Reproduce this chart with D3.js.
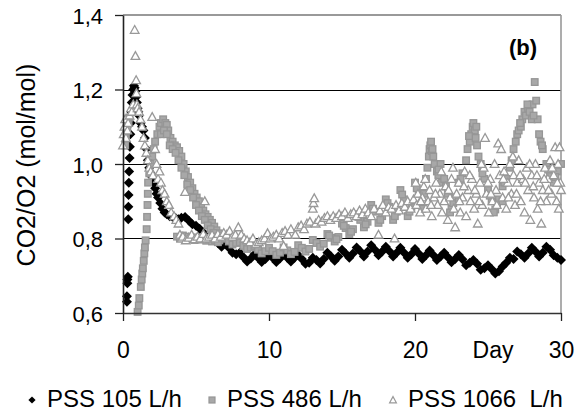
<!DOCTYPE html>
<html lang="en">

<head>
  <meta charset="UTF-8">
  <title>CO2/O2</title>
  <style>
    * {
      padding: 0;
      margin: 0;
    }

    body {
      background: #fff;
    }

    svg text {
      font-family: "Liberation Sans", Arial, sans-serif;
      fill: #000;
    }
  </style>
</head>

<body>
  <svg id="svg"></svg>
  <script src="https://cdnjs.cloudflare.com/ajax/libs/d3/7.8.5/d3.min.js"></script>
  <script>
    // [day, CO2/O2]
    const pss105 = [
      [0.27, 0.630], [0.27, 0.645], [0.30, 0.680], [0.30, 0.690], [0.33, 0.697],
      [0.36, 0.852], [0.37, 0.885], [0.38, 0.917], [0.40, 0.950], [0.42, 0.980], [0.45, 1.016],
      [0.47, 1.046], [0.50, 1.080], [0.53, 1.110], [0.56, 1.140], [0.60, 1.165], [0.65, 1.185],
      [0.70, 1.200], [0.75, 1.210], [0.80, 1.205], [0.85, 1.195], [0.90, 1.180], [0.95, 1.165],
      [1.00, 1.150], [1.05, 1.140], [1.10, 1.130], [1.20, 1.110], [1.30, 1.100], [1.40, 1.090],
      [1.50, 1.070], [1.60, 1.040], [1.70, 1.010], [1.80, 0.990], [1.90, 0.975], [2.00, 0.965],
      [2.10, 0.950], [2.20, 0.935], [2.30, 0.920], [2.40, 0.910], [2.55, 0.895], [2.70, 0.880],
      [2.85, 0.870], [3.00, 0.865], [3.20, 0.860], [3.40, 0.858], [3.60, 0.855], [3.80, 0.852],
      [4.00, 0.856], [4.25, 0.858], [4.50, 0.848], [4.75, 0.838], [5.00, 0.834], [5.25, 0.826],
      [5.50, 0.816], [5.75, 0.808], [6.00, 0.802], [6.25, 0.796], [6.50, 0.788], [6.75, 0.778],
      [7.00, 0.785], [7.25, 0.775], [7.50, 0.762], [7.75, 0.758],
      [8.00, 0.762], [8.25, 0.750], [8.50, 0.738], [8.75, 0.746],
      [9.00, 0.758], [9.25, 0.748], [9.50, 0.737], [9.75, 0.745],
      [10.00, 0.758], [10.25, 0.748], [10.50, 0.737], [10.75, 0.746],
      [11.00, 0.758], [11.25, 0.748], [11.50, 0.738], [11.75, 0.748],
      [12.00, 0.756], [12.25, 0.745], [12.50, 0.732], [12.75, 0.735],
      [13.00, 0.748], [13.25, 0.742], [13.50, 0.733], [13.75, 0.745],
      [14.00, 0.762], [14.25, 0.752], [14.50, 0.740], [14.75, 0.752],
      [15.00, 0.770], [15.25, 0.760], [15.50, 0.748], [15.75, 0.760],
      [16.00, 0.776], [16.25, 0.766], [16.50, 0.752], [16.75, 0.765],
      [17.00, 0.782], [17.25, 0.770], [17.50, 0.755], [17.75, 0.765],
      [18.00, 0.778], [18.25, 0.766], [18.50, 0.752], [18.75, 0.762],
      [19.00, 0.775], [19.25, 0.762], [19.50, 0.748], [19.75, 0.758],
      [20.00, 0.772], [20.25, 0.760], [20.50, 0.745], [20.75, 0.755],
      [21.00, 0.768], [21.25, 0.756], [21.50, 0.742], [21.75, 0.752],
      [22.00, 0.762], [22.25, 0.750], [22.50, 0.736], [22.75, 0.745],
      [23.00, 0.756], [23.25, 0.744], [23.50, 0.728], [23.75, 0.735],
      [24.00, 0.742], [24.25, 0.732], [24.50, 0.716], [24.75, 0.720],
      [25.00, 0.728], [25.25, 0.718], [25.50, 0.706], [25.75, 0.712],
      [26.00, 0.725], [26.25, 0.735], [26.50, 0.748], [26.75, 0.745],
      [27.00, 0.765], [27.25, 0.758], [27.50, 0.748], [27.75, 0.760],
      [28.00, 0.775], [28.25, 0.765], [28.50, 0.752], [28.75, 0.762],
      [29.00, 0.778], [29.25, 0.770], [29.50, 0.755], [29.75, 0.748],
      [30.00, 0.742]
    ];

    const pss486 = [
      [0.15, 1.050], [0.20, 1.070], [0.25, 1.090], [0.30, 1.100], [0.38, 1.115], [0.45, 1.125],
      [1.00, 0.603], [1.08, 0.620], [1.12, 0.640], [1.22, 0.670], [1.28, 0.690], [1.32, 0.706],
      [1.36, 0.720], [1.42, 0.740], [1.46, 0.760], [1.50, 0.776], [1.55, 0.795], [1.62, 0.825],
      [1.65, 0.858], [1.68, 0.890], [1.70, 0.920], [1.72, 0.950], [1.80, 0.975], [1.90, 1.000],
      [2.00, 1.020], [2.10, 1.040], [2.20, 1.060], [2.35, 1.080], [2.50, 1.100], [2.60, 1.110],
      [2.75, 1.120], [2.90, 1.110], [3.00, 1.105], [3.10, 1.090], [3.25, 1.070], [3.40, 1.060],
      [3.55, 1.050], [3.70, 1.045], [3.85, 1.035], [4.00, 1.020], [4.15, 1.000], [4.30, 0.980],
      [4.45, 0.965], [4.60, 0.950], [4.75, 0.935], [4.90, 0.920], [5.05, 0.910], [5.20, 0.900],
      [5.35, 0.885], [5.50, 0.875], [5.65, 0.865], [5.80, 0.858], [5.95, 0.850], [6.10, 0.842],
      [6.25, 0.832], [6.40, 0.822], [6.55, 0.814], [6.70, 0.806], [6.85, 0.800],
      [2.60, 1.080], [2.80, 1.090], [3.00, 1.080], [3.20, 1.050], [3.40, 1.040], [3.60, 1.030],
      [3.80, 1.010], [4.00, 0.990], [4.20, 0.970], [4.40, 0.945], [4.60, 0.930], [4.80, 0.910],
      [5.00, 0.890], [5.20, 0.875], [5.40, 0.860], [5.60, 0.850], [5.80, 0.835], [6.00, 0.825],
      [6.20, 0.815], [6.40, 0.805], [6.60, 0.795],
      [3.70, 0.805], [3.90, 0.800], [4.10, 0.808], [4.30, 0.798], [4.50, 0.805], [4.70, 0.800],
      [4.90, 0.796], [5.10, 0.803], [5.30, 0.797], [5.50, 0.800], [5.70, 0.794], [5.90, 0.798],
      [6.10, 0.792], [6.30, 0.796], [6.50, 0.790],
      [7.00, 0.800], [7.25, 0.792], [7.50, 0.784], [7.75, 0.788],
      [8.00, 0.790], [8.25, 0.780], [8.50, 0.772], [8.75, 0.776],
      [9.00, 0.780], [9.25, 0.770], [9.50, 0.760], [9.75, 0.766],
      [10.00, 0.775], [10.25, 0.766], [10.50, 0.756], [10.75, 0.762],
      [11.00, 0.776], [11.25, 0.768], [11.50, 0.758], [11.75, 0.764],
      [12.00, 0.782], [12.25, 0.775], [12.50, 0.765], [12.75, 0.772],
      [13.00, 0.796], [13.25, 0.788], [13.50, 0.778], [13.75, 0.786],
      [14.00, 0.812], [14.25, 0.802], [14.50, 0.792], [14.75, 0.804],
      [15.00, 0.840], [15.25, 0.828], [15.50, 0.812], [15.75, 0.825],
      [16.00, 0.865], [16.25, 0.850], [16.50, 0.830], [16.75, 0.845],
      [17.00, 0.890], [17.25, 0.872], [17.50, 0.842], [17.75, 0.860],
      [18.00, 0.905], [18.25, 0.885], [18.50, 0.850], [18.75, 0.872],
      [19.00, 0.930], [19.25, 0.905], [19.50, 0.860], [19.75, 0.885],
      [20.00, 0.950], [20.25, 0.920], [20.50, 0.880], [20.75, 0.960],
      [20.85, 0.990], [20.95, 1.020], [21.00, 1.040], [21.05, 1.050], [21.10, 1.060], [21.15, 1.035],
      [21.25, 1.020], [21.35, 1.000], [21.50, 0.980], [21.60, 0.970], [21.75, 1.000], [21.85, 0.950],
      [22.00, 0.960], [22.25, 0.920], [22.50, 0.880], [22.75, 0.910],
      [23.00, 0.950], [23.25, 0.975], [23.50, 1.010], [23.60, 1.040], [23.75, 1.060], [23.85, 1.080],
      [23.95, 1.100], [24.00, 1.110], [24.10, 1.090], [24.15, 1.070], [24.25, 1.050], [24.35, 1.020],
      [24.50, 1.000], [24.60, 0.990], [24.75, 0.960],
      [25.00, 0.930], [25.25, 0.900], [25.50, 0.878], [25.75, 0.905],
      [26.00, 0.940], [26.25, 0.960], [26.50, 0.990], [26.75, 1.040], [26.90, 1.060],
      [27.00, 1.080], [27.10, 1.090], [27.25, 1.100], [27.35, 1.120], [27.50, 1.140], [27.60, 1.130],
      [27.75, 1.150], [27.85, 1.140], [28.00, 1.120], [28.05, 1.160], [28.20, 1.220], [28.30, 1.170],
      [28.40, 1.120], [28.50, 1.080], [28.60, 1.060], [28.75, 1.040],
      [29.00, 1.000], [29.25, 0.970], [29.50, 0.950], [29.75, 0.980], [30.00, 1.000],
      [14.12, 0.808], [14.62, 0.798], [15.12, 0.834], [15.62, 0.818], [16.12, 0.858], [16.62, 0.838],
      [17.12, 0.880], [17.62, 0.850], [18.12, 0.895], [18.62, 0.860], [19.12, 0.918], [19.62, 0.872],
      [20.12, 0.935], [20.62, 0.920], [21.20, 1.040], [21.62, 0.985], [22.12, 0.940], [22.62, 0.895],
      [23.12, 0.960], [23.70, 1.075], [24.20, 1.100], [24.62, 0.975], [25.12, 0.915], [25.62, 0.890],
      [26.12, 0.950], [26.62, 1.010], [27.20, 1.110], [27.70, 1.160], [28.12, 1.130], [28.70, 1.050],
      [29.12, 0.985], [29.62, 0.965], [22.40, 0.870], [25.40, 0.870], [26.00, 0.900], [23.00, 0.900]
    ];

    const pss1066 = [
      [0.00, 1.050], [0.05, 1.080], [0.10, 1.100], [0.15, 1.120], [0.20, 1.070], [0.30, 1.090],
      [0.35, 1.110], [0.45, 1.130], [0.55, 1.150], [0.60, 1.140], [0.70, 1.160], [0.80, 1.360],
      [0.85, 1.290], [0.90, 1.225], [0.92, 1.190], [0.95, 1.160], [1.00, 1.150], [1.10, 1.140],
      [1.20, 1.120], [1.30, 1.100], [1.40, 1.070], [1.50, 1.050], [1.60, 1.030], [1.70, 1.010],
      [1.80, 0.990], [1.90, 0.980], [2.00, 1.126], [2.05, 0.970], [2.20, 1.040], [2.30, 1.000],
      [2.40, 0.960], [2.50, 0.980], [2.60, 0.950], [2.70, 0.930], [2.85, 0.920], [3.00, 0.900],
      [3.15, 0.890], [3.30, 0.870], [3.50, 0.860], [3.65, 0.850], [3.80, 0.840], [3.90, 0.810],
      [4.00, 0.800], [4.10, 0.805], [4.25, 0.925], [4.30, 0.795], [4.50, 0.802], [4.70, 0.810],
      [4.90, 0.798], [5.10, 0.805], [5.30, 0.800], [5.50, 0.812], [5.60, 0.900], [5.70, 0.800],
      [5.90, 0.805], [6.10, 0.810], [6.30, 0.800], [6.50, 0.812], [6.70, 0.805], [6.90, 0.815],
      [7.10, 0.810], [7.30, 0.820], [7.50, 0.805], [7.70, 0.810], [7.90, 0.830], [8.10, 0.810],
      [8.30, 0.800], [8.50, 0.795], [8.70, 0.790], [8.90, 0.800], [9.10, 0.785], [9.30, 0.790],
      [9.50, 0.795], [9.70, 0.800], [9.90, 0.814], [10.10, 0.800], [10.30, 0.805], [10.50, 0.810],
      [10.70, 0.800], [10.90, 0.815], [11.00, 0.780], [11.10, 0.820], [11.30, 0.810], [11.50, 0.825],
      [11.80, 0.810], [12.00, 0.830], [12.20, 0.835], [12.40, 0.825], [12.60, 0.840], [12.80, 0.845],
      [13.00, 0.880], [13.05, 0.895], [13.10, 0.908], [13.20, 0.840], [13.40, 0.850], [13.60, 0.845],
      [13.80, 0.855], [14.00, 0.860], [14.20, 0.850], [14.40, 0.860], [14.60, 0.855], [14.80, 0.865],
      [15.00, 0.860], [15.20, 0.870], [15.40, 0.855], [15.60, 0.865], [15.80, 0.870], [16.00, 0.860],
      [16.20, 0.875], [16.40, 0.865], [16.60, 0.880], [16.80, 0.870], [17.00, 0.860], [17.20, 0.880],
      [17.50, 0.810], [17.60, 0.875], [17.80, 0.890], [18.00, 0.870], [18.20, 0.885], [18.40, 0.880],
      [18.60, 0.800], [18.70, 0.890], [18.90, 0.875], [19.10, 0.895], [19.30, 0.885], [19.50, 0.900],
      [19.70, 0.880], [19.90, 0.905],
      [20.10, 0.890], [20.20, 0.920], [20.35, 0.870], [20.50, 0.910], [20.60, 0.940], [20.75, 0.880],
      [20.90, 0.900], [21.00, 0.930], [21.15, 0.860], [21.30, 0.910], [21.45, 0.950], [21.55, 0.890],
      [21.70, 0.920], [21.85, 0.870], [22.00, 0.900], [22.10, 0.940], [22.25, 0.850], [22.40, 0.910],
      [22.50, 0.960], [22.65, 0.880], [22.75, 0.830], [22.85, 0.920], [23.00, 0.950], [23.10, 0.870],
      [23.25, 0.910], [23.40, 0.980], [23.50, 0.860], [23.65, 0.930], [23.80, 0.900], [23.90, 0.960],
      [24.05, 0.880], [24.20, 0.920], [24.30, 0.840], [24.45, 0.950], [24.60, 0.890], [24.70, 0.990],
      [24.80, 1.070], [24.90, 0.920], [25.05, 0.870], [25.15, 0.960], [25.30, 0.900], [25.45, 1.000],
      [25.55, 0.930], [25.70, 1.055], [25.80, 0.970], [25.90, 1.040], [26.00, 0.910], [26.10, 0.980],
      [26.25, 0.880], [26.35, 0.950], [26.50, 1.000], [26.60, 0.920], [26.75, 0.970], [26.85, 0.890],
      [27.00, 0.950], [27.10, 1.010], [27.25, 0.900], [27.40, 0.960], [27.50, 0.870], [27.65, 0.990],
      [27.75, 0.930], [27.90, 0.850], [28.00, 0.970], [28.15, 0.910], [28.25, 1.000], [28.40, 0.880],
      [28.50, 0.950], [28.65, 0.840], [28.75, 0.930], [28.90, 0.990], [29.00, 0.900], [29.10, 0.960],
      [29.25, 1.010], [29.35, 0.920], [29.50, 0.970], [29.60, 1.045], [29.70, 0.900], [29.80, 1.000],
      [29.90, 1.045], [29.95, 0.950], [30.00, 0.930],
      [20.05, 0.950], [20.40, 0.900], [20.70, 0.960], [21.10, 0.890], [21.40, 0.920], [21.80, 0.980],
      [22.30, 0.930], [22.60, 0.990], [23.05, 0.900], [23.35, 0.940], [23.75, 0.970], [24.10, 0.930],
      [24.40, 0.900], [24.55, 1.000], [25.00, 0.950], [25.20, 0.920], [25.60, 0.890], [26.05, 0.960],
      [26.40, 0.910], [26.70, 1.020], [26.95, 0.920], [27.20, 0.970], [27.55, 0.950], [27.85, 1.000],
      [28.10, 0.940], [28.35, 0.970], [28.60, 0.900], [28.85, 0.960], [29.15, 0.930], [29.40, 0.990],
      [29.75, 0.950], [29.85, 0.880]
    ];

    const yTicks = [0.6, 0.8, 1.0, 1.2, 1.4];
    const xTicks = [0, 10, 20, 30];
    const gridValues = [0.8, 1.0, 1.2];
    const legendLabels = ['PSS 105 L/h', 'PSS 486 L/h', 'PSS 1066  L/h'];

    const dimension = {
      width: 585,
      height: 418,
      margin: { top: 15, right: 24, bottom: 105, left: 123 }
    };

    const svg = d3.select('#svg')
      .attr('width', dimension.width)
      .attr('height', dimension.height);

    const x = d3.scaleLinear()
      .domain([0, 30])
      .range([dimension.margin.left, dimension.width - dimension.margin.right]);
    const y = d3.scaleLinear()
      .domain([0.6, 1.4])
      .range([dimension.height - dimension.margin.bottom, dimension.margin.top]);

    const fmt = d => d3.format('.1f')(d).replace('.', ',');

    // grid lines
    svg.append('g')
      .selectAll('line')
      .data(gridValues)
      .join('line')
      .attr('x1', x(0)).attr('x2', x(30))
      .attr('y1', d => Math.round(y(d)) + 0.5).attr('y2', d => Math.round(y(d)) + 0.5)
      .attr('stroke', '#000')
      .attr('stroke-width', 1);

    // plot frame top / right in grey
    svg.append('line')
      .attr('x1', x(0)).attr('x2', x(30))
      .attr('y1', y(1.4)).attr('y2', y(1.4))
      .attr('stroke', '#999').attr('stroke-width', 2);
    svg.append('line')
      .attr('x1', x(30)).attr('x2', x(30))
      .attr('y1', y(1.4)).attr('y2', y(0.6))
      .attr('stroke', '#999').attr('stroke-width', 1.6);

    // markers
    const diamond = 'M0,-5L5,0L0,5L-5,0Z';
    const triangle = 'M0,-4.4L4.3,3.4L-4.3,3.4Z';

    svg.append('g')
      .selectAll('path')
      .data(pss105)
      .join('path')
      .attr('d', diamond)
      .attr('transform', d => `translate(${x(d[0])},${y(d[1])})`)
      .attr('fill', '#000');

    svg.append('g')
      .selectAll('rect')
      .data(pss486)
      .join('rect')
      .attr('x', d => x(d[0]) - 3.3)
      .attr('y', d => y(d[1]) - 3.3)
      .attr('width', 6.6)
      .attr('height', 6.6)
      .attr('fill', '#a8a8a8')
      .attr('stroke', '#969696')
      .attr('stroke-width', 1.3);

    svg.append('g')
      .selectAll('path')
      .data(pss1066)
      .join('path')
      .attr('d', triangle)
      .attr('transform', d => `translate(${x(d[0])},${y(d[1])})`)
      .attr('fill', '#fff')
      .attr('stroke', '#999')
      .attr('stroke-width', 1.3);

    // axes
    const yAxis = svg.append('g')
      .attr('transform', `translate(${x(0)},0)`)
      .call(d3.axisLeft(y).tickValues(yTicks).tickFormat(fmt).tickSize(8).tickSizeOuter(0).tickPadding(12));
    yAxis.select('.domain').attr('stroke', '#222').attr('stroke-width', 1.6);
    yAxis.selectAll('.tick line').attr('stroke', '#222').attr('stroke-width', 1.3);
    yAxis.selectAll('text')
      .attr('font-size', 22)
      .attr('dy', '0.38em')
      .style('font-family', '"Liberation Sans", Arial, sans-serif');

    const xAxis = svg.append('g')
      .attr('transform', `translate(0,${y(0.6)})`)
      .call(d3.axisBottom(x).tickValues(xTicks).tickFormat(d3.format('d')).tickSize(8).tickSizeOuter(0).tickPadding(21));
    xAxis.select('.domain').attr('stroke', '#333').attr('stroke-width', 1.6);
    xAxis.selectAll('.tick line').attr('stroke', '#222').attr('stroke-width', 1.3);
    xAxis.selectAll('text')
      .attr('font-size', 23)
      .style('font-family', '"Liberation Sans", Arial, sans-serif');

    svg.append('text')
      .attr('x', 493).attr('y', 358)
      .attr('text-anchor', 'middle')
      .attr('font-size', 23)
      .text('Day');

    svg.append('text')
      .attr('transform', `translate(35,${(y(0.6) + y(1.4)) / 2 + 1}) rotate(-90)`)
      .attr('text-anchor', 'middle')
      .attr('font-size', 25)
      .text('CO2/O2 (mol/mol)');

    svg.append('text')
      .attr('x', 523).attr('y', 55)
      .attr('text-anchor', 'middle')
      .attr('font-size', 22)
      .attr('font-weight', 'bold')
      .text('(b)');

    // legend
    const legendX = [32, 212, 393];
    const legend = svg.append('g').attr('transform', 'translate(0,400)');
    legend.append('path')
      .attr('d', 'M0,-3.6L3.6,0L0,3.6L-3.6,0Z')
      .attr('transform', `translate(${legendX[0]},0)`)
      .attr('fill', '#000');
    legend.append('rect')
      .attr('x', legendX[1] - 3).attr('y', -3)
      .attr('width', 6).attr('height', 6)
      .attr('fill', '#a8a8a8').attr('stroke', '#969696').attr('stroke-width', 1.2);
    legend.append('path')
      .attr('d', 'M0,-3.4L3.4,2.8L-3.4,2.8Z')
      .attr('transform', `translate(${legendX[2]},0)`)
      .attr('fill', '#fff').attr('stroke', '#999').attr('stroke-width', 1.2);
    legend.selectAll('text.lab')
      .data(legendLabels)
      .join('text')
      .attr('class', 'lab')
      .attr('x', (d, i) => legendX[i] + 15)
      .attr('y', 7)
      .attr('font-size', 24)
      .style('white-space', 'pre')
      .text(d => d);
  </script>
</body>

</html>
